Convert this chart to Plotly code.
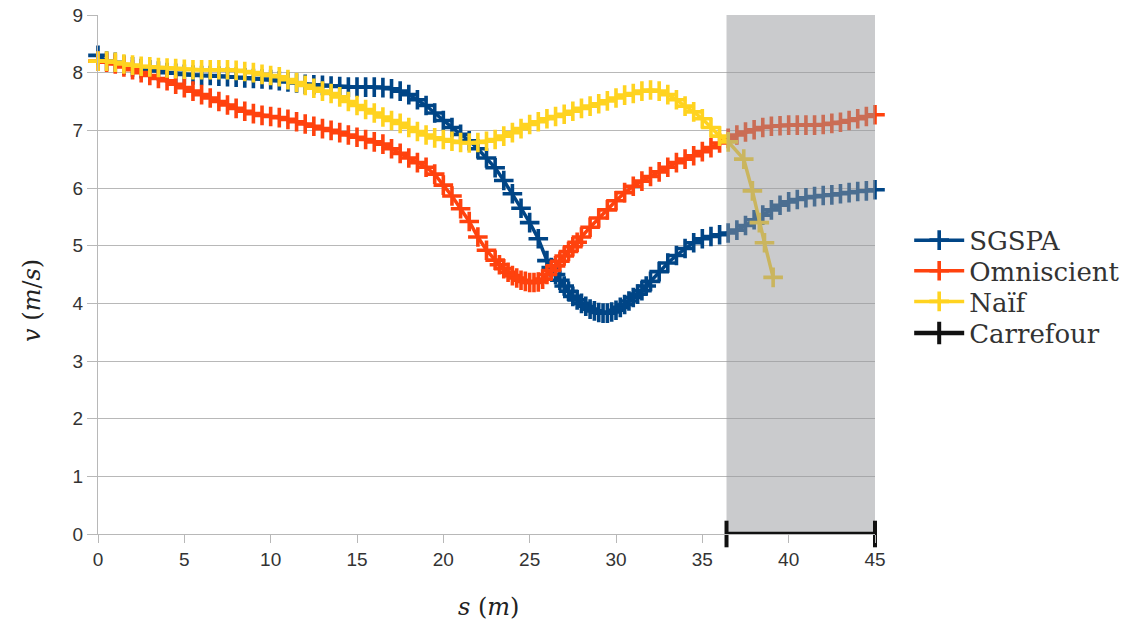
import plotly.graph_objects as go

# ---------------- data ----------------
def grid_half(a, b):
    return [a + i * 0.5 for i in range(int(round((b - a) / 0.5)) + 1)]

def grid_quarter(a, b):
    return [a + i * 0.25 for i in range(int(round((b - a) / 0.25)) + 1)]

# SGSPA: samples every 0.5 m, denser (0.25 m) around the slow-down
sgspa_s = grid_half(0, 25.5) + grid_quarter(26, 32) + grid_half(32.5, 45)
sgspa_v = [8.30, 8.20, 8.18, 8.13, 8.10, 8.07, 8.05, 8.03, 8.00, 7.99,
           7.97, 7.96, 7.95, 7.95, 7.94, 7.93, 7.92, 7.91, 7.90, 7.89,
           7.88, 7.86, 7.84, 7.82, 7.80, 7.79, 7.78, 7.77, 7.76, 7.75,
           7.75, 7.75, 7.75, 7.74, 7.72, 7.68, 7.62, 7.53, 7.43, 7.30,
           7.17, 7.05, 6.93, 6.82, 6.68, 6.52, 6.35, 6.13, 5.90, 5.65,
           5.40, 5.12,
           4.74, 4.62, 4.50, 4.40, 4.30, 4.21, 4.12, 4.06, 4.00, 3.95,
           3.90, 3.87, 3.84, 3.83, 3.83, 3.85, 3.88, 3.93, 3.98, 4.04,
           4.10, 4.16, 4.22, 4.30, 4.38,
           4.55, 4.70, 4.83, 4.95, 5.05,
           5.12, 5.16, 5.19, 5.22, 5.27, 5.35, 5.45, 5.53, 5.62, 5.70,
           5.76, 5.80, 5.83, 5.85, 5.87, 5.88, 5.90, 5.92, 5.94, 5.95,
           5.97]

omni_s = grid_half(0, 22.5) + grid_quarter(23, 28) + grid_half(28.5, 45)
omni_v = [8.20, 8.18, 8.15, 8.10, 8.05, 8.00, 7.95, 7.90, 7.86, 7.80,
          7.74, 7.68, 7.62, 7.56, 7.50, 7.44, 7.38, 7.33, 7.29, 7.26,
          7.24, 7.22, 7.19, 7.15, 7.11, 7.07, 7.03, 7.00, 6.96, 6.92,
          6.88, 6.84, 6.80, 6.76, 6.68, 6.60, 6.52, 6.44, 6.36, 6.24,
          6.05, 5.86, 5.64, 5.42, 5.15, 4.92,
          4.75, 4.67, 4.60, 4.54, 4.48, 4.44, 4.40, 4.38, 4.36, 4.36,
          4.37, 4.42, 4.50, 4.57, 4.65, 4.73, 4.82, 4.90, 4.98, 5.06,
          5.15,
          5.32, 5.48, 5.62,
          5.78, 5.92, 6.03, 6.12, 6.20, 6.28, 6.36, 6.44, 6.50, 6.56,
          6.63, 6.70, 6.78, 6.86, 6.92, 6.97, 7.01, 7.05, 7.07, 7.08,
          7.09, 7.09, 7.09, 7.09, 7.10, 7.12, 7.14, 7.17, 7.20, 7.24,
          7.27]

naif_s = grid_half(0, 36.5) + [37.4, 37.9, 38.3, 38.6, 39.1]
naif_v = [8.20, 8.20, 8.18, 8.15, 8.13, 8.11, 8.10, 8.09, 8.08, 8.07,
          8.06, 8.05, 8.05, 8.05, 8.05, 8.05, 8.04, 8.02, 8.00, 7.97,
          7.95, 7.93, 7.88, 7.83, 7.78, 7.73, 7.68, 7.64, 7.58, 7.50,
          7.43, 7.36, 7.30, 7.23, 7.17, 7.12, 7.05, 6.98, 6.92, 6.87,
          6.84, 6.81, 6.79, 6.78, 6.79, 6.81, 6.84, 6.90, 6.96, 7.03,
          7.10, 7.15, 7.20, 7.24, 7.28, 7.33, 7.38, 7.42, 7.46, 7.51,
          7.56, 7.61, 7.64, 7.68, 7.70, 7.68, 7.62, 7.53, 7.42, 7.32,
          7.20, 7.05, 6.90, 6.80,
          6.50, 5.95, 5.40, 5.05, 4.45]

carrefour_s = [36.4, 45.0]
carrefour_v = [0.0, 0.0]

series_names = ["SGSPA", "Omniscient", "Naïf", "Carrefour"]
series_colors = ["#004586", "#ff420e", "#ffd320", "#111111"]

x_ticks = [0, 5, 10, 15, 20, 25, 30, 35, 40, 45]
y_ticks = [0, 1, 2, 3, 4, 5, 6, 7, 8, 9]

# ---------------- figure ----------------
fig = go.Figure()
legend_ids = ["legend", "legend2", "legend3", "legend4"]

for i, (name, xs, ys, col) in enumerate([
    (series_names[0], sgspa_s, sgspa_v, series_colors[0]),
    (series_names[1], omni_s, omni_v, series_colors[1]),
    (series_names[2], naif_s, naif_v, series_colors[2]),
]):
    fig.add_trace(go.Scatter(
        x=xs, y=ys, name=name, mode="lines+markers", legend=legend_ids[i],
        line=dict(color=col, width=3.5),
        marker=dict(symbol="cross-thin", size=14,
                    line=dict(color=col, width=3.6), color=col),
        cliponaxis=False,
    ))

x0, x1 = carrefour_s[0], carrefour_s[-1]
ymin, ymax = y_ticks[0], y_ticks[-1]

# translucent grey veil over the crossing zone (dims curves and grid in it)
fig.add_trace(go.Scatter(
    x=[x0, x1, x1, x0, x0], y=[ymin, ymin, ymax, ymax, ymin],
    mode="lines", fill="toself", fillcolor="rgba(150,151,155,0.5)",
    line=dict(width=0), showlegend=False, hoverinfo="skip",
))

fig.add_trace(go.Scatter(
    x=carrefour_s, y=carrefour_v, name=series_names[3], mode="lines+markers",
    legend=legend_ids[3],
    line=dict(color=series_colors[3], width=4.5),
    marker=dict(symbol="line-ns", size=19,
                line=dict(color=series_colors[3], width=4)),
    cliponaxis=False,
))

grid = "#b8b8b8"
tickfont = dict(family="Liberation Sans", size=19, color="#333333")
fig.update_xaxes(range=[0, 45], tickvals=x_ticks, showgrid=False, automargin=False,
                 showline=True, linecolor=grid, linewidth=1.3,
                 ticks="outside", ticklen=8, tickcolor=grid, zeroline=False,
                 ticklabeloverflow="allow", tickfont=tickfont)
fig.update_yaxes(range=[0, 9], tickvals=y_ticks, showgrid=True, automargin=False,
                 gridcolor=grid, gridwidth=1.3,
                 showline=True, linecolor=grid, linewidth=1.3,
                 ticks="outside", ticklen=10, tickcolor=grid, zeroline=False,
                 ticklabeloverflow="allow", tickfont=tickfont)

legend_font = dict(family="DejaVu Serif", size=26, color="#333333")
legend_y = [0.566, 0.507, 0.448, 0.387]
legends = {}
for lid, ly in zip(legend_ids, legend_y):
    legends[lid] = dict(x=1.044, y=ly, xanchor="left", yanchor="middle",
                        font=legend_font, itemwidth=50,
                        bgcolor="rgba(0,0,0,0)")

fig.update_layout(
    width=1137, height=627,
    margin=dict(l=98, r=262, t=15, b=93, autoexpand=False),
    plot_bgcolor="white", paper_bgcolor="white",
    **legends,
    annotations=[
        dict(text="<i>v</i> (<i>m</i>/<i>s</i>)", xref="paper", yref="paper",
             x=-0.085, y=0.451, xanchor="center", yanchor="middle",
             textangle=-90, showarrow=False,
             font=dict(family="DejaVu Serif", size=24, color="#222222")),
        dict(text="<i>s</i> (<i>m</i>)", xref="paper", yref="paper",
             x=0.503, y=-0.141, xanchor="center", yanchor="middle",
             showarrow=False,
             font=dict(family="DejaVu Serif", size=24, color="#222222")),
    ],
)

# drop the browser's default 8 px body margin so the figure fills the window
fig.write_html("out.html",
               config={"displayModeBar": False},
               post_script="document.body.style.margin='0';"
                           "document.body.style.overflow='hidden';")
